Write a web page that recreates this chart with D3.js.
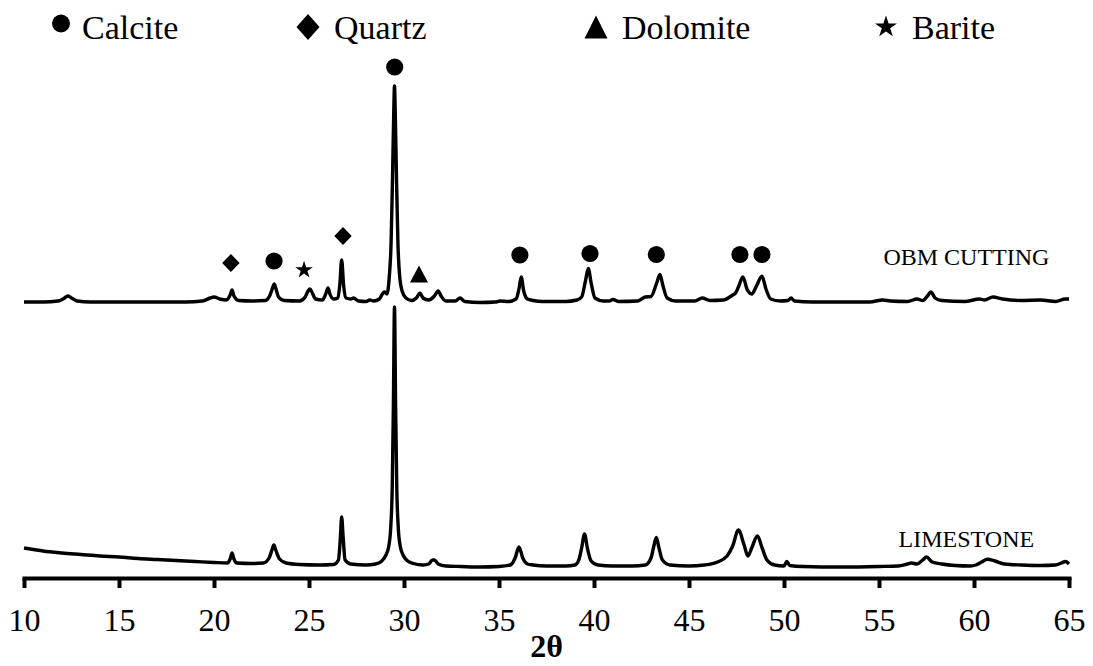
<!DOCTYPE html>
<html>
<head>
<meta charset="utf-8">
<script src="https://cdn.jsdelivr.net/npm/d3@7"></script>
<style>
body { margin: 0; background: #fff; }
svg { display: block; font-family: "Liberation Serif", "Times New Roman", serif; }
</style>
</head>
<body>
<svg width="1093" height="666"></svg>
<script>
// 2theta ticks
const tickValues = [10, 15, 20, 25, 30, 35, 40, 45, 50, 55, 60, 65];

// limestone pattern [2theta, intensity a.u.]
const limestone = [
  [10.0, 30], [10.5, 28.5], [11, 27], [12, 25], [13, 23.5], [14, 22], [15, 21], [16, 19.5],
  [17, 18.5], [18, 17.5], [19, 16.5], [20, 15.5], [20.7, 15], [20.85, 19], [20.95, 25], [21.05, 19],
  [21.2, 15], [22, 14.5], [22.6, 15], [22.9, 20], [23.05, 28], [23.15, 33], [23.25, 28], [23.45, 19],
  [23.8, 15], [24.5, 13.5], [25.5, 13], [26.3, 13.5], [26.55, 18], [26.65, 40], [26.72, 61], [26.8, 40],
  [26.9, 18], [27.2, 14], [28, 13], [28.5, 14], [28.8, 16.5], [29.05, 23], [29.2, 32], [29.3, 50],
  [29.38, 90], [29.44, 170], [29.5, 271], [29.56, 170], [29.62, 90], [29.7, 50], [29.8, 32], [29.95, 23],
  [30.2, 17], [30.5, 14.5], [31, 13], [31.3, 14], [31.5, 18], [31.6, 18], [31.8, 14], [32.2, 12],
  [33, 11.5], [34, 11], [35, 11.5], [35.6, 13], [35.85, 20], [36.05, 31], [36.25, 20], [36.5, 14],
  [36.8, 13], [37.5, 12], [38.5, 12], [39, 13], [39.2, 18], [39.35, 30], [39.5, 44], [39.65, 30],
  [39.85, 17], [40.2, 13], [41, 12], [42, 12], [42.7, 13], [43.0, 20], [43.15, 32], [43.28, 40.5],
  [43.42, 30], [43.6, 18], [44, 13], [45, 12], [45.8, 13], [46.5, 16], [47, 22], [47.3, 32],
  [47.6, 48], [47.9, 33], [48.1, 22], [48.3, 30], [48.6, 42], [48.85, 30], [49.1, 18], [49.5, 13],
  [50.0, 12], [50.15, 16.5], [50.3, 12.5], [51, 11.5], [53, 11], [55, 11.5], [56, 12], [56.5, 14],
  [56.7, 15], [57, 14], [57.3, 18], [57.5, 21], [57.8, 16], [58.3, 14], [59, 12.5], [59.8, 12],
  [60.1, 13], [60.4, 16], [60.7, 18.7], [61.1, 17], [61.6, 14], [62.5, 13], [63.5, 12.5], [64.3, 13],
  [64.6, 15], [64.82, 16.5], [65, 14]
];

// OBM cutting pattern [2theta, intensity a.u.], drawn shifted up
const obmCutting = [
  [10, 11], [11, 11], [11.8, 12], [12.1, 14.5], [12.3, 17], [12.5, 15], [12.8, 12], [13.5, 11],
  [15, 11], [17, 11], [18.5, 11], [19.4, 12], [19.8, 15], [20.0, 16], [20.3, 14], [20.65, 13],
  [20.85, 18], [20.95, 23], [21.05, 17], [21.3, 12.5], [22, 12], [22.7, 12.5], [22.95, 18], [23.1, 26],
  [23.17, 29], [23.25, 25], [23.4, 16], [23.7, 12.5], [24.5, 12], [24.8, 16], [24.95, 22], [25.05, 24],
  [25.15, 21], [25.35, 14], [25.7, 13], [25.88, 19], [26.0, 25], [26.1, 19], [26.3, 14], [26.52, 15],
  [26.62, 28], [26.72, 53], [26.82, 28], [26.95, 15], [27.2, 14], [27.35, 15], [27.6, 12], [28.0, 11.5],
  [28.2, 13], [28.4, 12], [28.7, 14], [28.9, 20], [28.98, 21], [29.1, 19], [29.22, 35], [29.32, 70],
  [29.4, 140], [29.46, 200], [29.5, 227], [29.54, 200], [29.6, 140], [29.68, 70], [29.78, 35], [29.9, 22],
  [30.1, 15], [30.4, 12.5], [30.65, 15], [30.84, 20], [31.0, 15], [31.3, 13], [31.6, 17], [31.8, 22],
  [31.95, 17], [32.2, 12], [32.7, 12], [32.95, 15], [33.2, 11.5], [34, 10.5], [34.8, 11], [35.05, 12],
  [35.5, 11.5], [35.9, 14], [36.05, 24], [36.17, 36], [36.3, 22], [36.5, 14], [36.8, 12.5], [37.3, 11.5],
  [38.5, 11.5], [39.1, 13], [39.35, 16], [39.55, 32], [39.7, 44.5], [39.85, 30], [40.05, 15], [40.5, 12],
  [40.8, 12], [41.0, 13.5], [41.3, 11.5], [42.3, 12], [42.7, 16], [43.0, 16.5], [43.3, 30], [43.47, 38.5],
  [43.62, 28], [43.85, 15], [44.3, 12], [45.3, 12], [45.7, 15], [46.1, 12.5], [46.8, 13], [47.3, 18],
  [47.45, 20], [47.6, 26], [47.84, 36], [48.05, 24], [48.3, 19], [48.55, 27], [48.84, 36.7], [49.05, 24],
  [49.3, 14], [49.8, 12], [50.2, 12.5], [50.37, 15], [50.55, 12], [51.5, 11], [53, 11], [54.5, 11],
  [55.2, 13], [55.6, 12], [56.5, 11.5], [57.0, 14], [57.3, 12.5], [57.55, 17], [57.73, 21], [57.95, 15],
  [58.3, 12.5], [59.5, 11.5], [60.3, 14], [60.55, 13], [61.0, 16], [61.5, 14], [62.5, 12.5], [63.5, 13],
  [64.3, 11.5], [64.8, 14], [65.0, 14]
];

// phase markers above the OBM pattern [2theta, level a.u.]
const calcitePeaks = [[29.51, 246], [23.16, 52], [36.1, 58], [39.79, 59.5], [43.28, 58.5], [47.68, 58.5], [48.84, 58.5]];
const quartzPeaks = [[20.89, 50], [26.79, 77]];
const dolomitePeaks = [[30.79, 39]];
const baritePeaks = [[24.74, 43]];

const legendNames = ['Calcite', 'Quartz', 'Dolomite', 'Barite'];

const obmOffset = 265;

const svg = d3.select('svg');

const x = d3.scaleLinear().domain([10, 65]).range([24, 1069]);
const y = d3.scaleLinear().domain([0, 520]).range([578, 58]);

// shapes
function diamond(w, h) {
  return `M0,${-h / 2}L${w / 2},0L0,${h / 2}L${-w / 2},0Z`;
}
function triangle(w, h) {
  return `M0,${-h / 2}L${w / 2},${h / 2}L${-w / 2},${h / 2}Z`;
}
const circlePath = r => d3.symbol(d3.symbolCircle, Math.PI * r * r)();
const starPath = s => d3.symbol(d3.symbolStar, s)();

// traces
const line = d3.line()
  .x(d => x(d[0]))
  .y(d => y(d[1]))
  .curve(d3.curveMonotoneX);

svg.append('path')
  .datum(limestone)
  .attr('fill', 'none')
  .attr('stroke', '#000')
  .attr('stroke-width', 3.4)
  .attr('stroke-linejoin', 'round')
  .attr('d', line);

svg.append('path')
  .datum(obmCutting.map(d => [d[0], d[1] + obmOffset]))
  .attr('fill', 'none')
  .attr('stroke', '#000')
  .attr('stroke-width', 3.4)
  .attr('stroke-linejoin', 'round')
  .attr('d', line);

// markers
const markers = svg.append('g');
function addMarkers(data, path) {
  markers.selectAll(null)
    .data(data)
    .join('path')
    .attr('d', path)
    .attr('fill', '#000')
    .attr('transform', d => `translate(${x(d[0])},${y(d[1] + obmOffset)})`);
}
addMarkers(calcitePeaks, circlePath(8.6));
addMarkers(quartzPeaks, diamond(17.5, 18));
addMarkers(dolomitePeaks, triangle(18, 17));
addMarkers(baritePeaks, starPath(95));

// sample labels
svg.append('text')
  .attr('x', x(59.6)).attr('y', y(obmOffset + 48))
  .attr('text-anchor', 'middle')
  .attr('font-size', 24)
  .text('OBM CUTTING');

svg.append('text')
  .attr('x', x(59.6)).attr('y', y(31))
  .attr('text-anchor', 'middle')
  .attr('font-size', 24)
  .text('LIMESTONE');

// axis
const xAxis = d3.axisBottom(x)
  .tickValues(tickValues)
  .tickSize(10)
  .tickSizeOuter(0);

const gx = svg.append('g')
  .attr('transform', `translate(0,${y(0)})`)
  .call(xAxis)
  .attr('font-size', 32)
  .attr('font-family', '"Liberation Serif", "Times New Roman", serif');

gx.select('.domain').attr('stroke-width', 4).attr('stroke-linecap', 'square');
gx.selectAll('.tick line').attr('stroke-width', 4);
gx.selectAll('.tick text').attr('y', 53).attr('dy', 0).attr('fill', '#000');

svg.append('text')
  .attr('x', (x.range()[0] + x.range()[1]) / 2)
  .attr('y', 657)
  .attr('text-anchor', 'middle')
  .attr('font-size', 32)
  .attr('font-weight', 'bold')
  .text('2θ');

// legend
const legendX = [61, 308, 596, 886];
const legendShapes = [circlePath(9), diamond(23, 26), triangle(23, 23), starPath(150)];
const legendShapeY = [23.5, 27, 27, 27];
const legend = svg.append('g');
legendNames.forEach((name, i) => {
  legend.append('path')
    .attr('d', legendShapes[i])
    .attr('fill', '#000')
    .attr('transform', `translate(${legendX[i]},${legendShapeY[i]})`);
  legend.append('text')
    .attr('x', legendX[i] + (i === 0 ? 21 : 26))
    .attr('y', 39)
    .attr('font-size', 34)
    .text(name);
});
</script>
</body>
</html>
